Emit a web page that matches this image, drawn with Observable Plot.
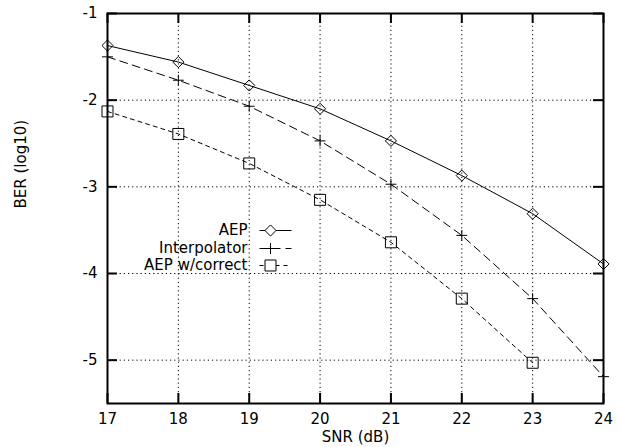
<!DOCTYPE html>
<html>
<head>
<meta charset="utf-8">
<script src="https://cdn.jsdelivr.net/npm/d3@7"></script>
<script src="https://cdn.jsdelivr.net/npm/@observablehq/plot@0.6"></script>
<style>
  html, body { margin: 0; padding: 0; background: #fff; }
  #chart svg { display: block; }
</style>
</head>
<body>
<div id="chart"></div>
<script>
const snr = [17, 18, 19, 20, 21, 22, 23, 24];
const aep = [-1.37, -1.56, -1.83, -2.10, -2.47, -2.87, -3.31, -3.89];
const interpolator = [-1.50, -1.77, -2.07, -2.47, -2.97, -3.56, -4.29, -5.19];
const aepCorrect = [-2.13, -2.39, -2.73, -3.15, -3.64, -4.29, -5.03];
const xTicks = [17, 18, 19, 20, 21, 22, 23, 24];
const yTicks = [-1, -2, -3, -4, -5];
const seriesNames = ["AEP", "Interpolator", "AEP w/correct"];

const W = 619, H = 447;
const mL = 107, mR = 16, mT = 13, mB = 44;
const pw = W - mL - mR, ph = H - mT - mB;
const font = "'DejaVu Sans', 'Liberation Sans', Arial, sans-serif";
const fs = 15;

const series = [
  {name: seriesNames[0], ys: aep, symbol: "diamond2", r: 5, dash: null},
  {name: seriesNames[1], ys: interpolator, symbol: "plus", r: 3.6, dash: "8,5"},
  {name: seriesNames[2], ys: aepCorrect, symbol: "square2", r: 7, dash: "4,4"}
];
const data = series.map(s => s.ys.map((v, i) => ({x: snr[i], y: v, name: s.name})));

const xDomain = [17, 24], yDomain = [-5.5, -1];
const px2x = p => xDomain[0] + (p - mL) / pw * (xDomain[1] - xDomain[0]);
const px2y = p => yDomain[1] - (p - mT) / ph * (yDomain[1] - yDomain[0]);

// legend layout (in pixels, converted to data units)
const legRows = [230, 248, 265];
const legTextX = 247, legLine = [259, 291], legMark = 270;

const marks = [
  Plot.gridX(xTicks, {stroke: "#000", strokeOpacity: 1, strokeWidth: 1, strokeDasharray: "1.2,3"}),
  Plot.gridY(yTicks, {stroke: "#000", strokeOpacity: 1, strokeWidth: 1, strokeDasharray: "1.2,3"}),
  // inward ticks
  Plot.tickX(xTicks, {x: d => d, insetTop: ph - 10, stroke: "#000", strokeWidth: 2}),
  Plot.tickX(xTicks, {x: d => d, insetBottom: ph - 10, stroke: "#000", strokeWidth: 2}),
  Plot.tickY(yTicks, {y: d => d, insetRight: pw - 10, stroke: "#000", strokeWidth: 2}),
  Plot.tickY(yTicks, {y: d => d, insetLeft: pw - 10, stroke: "#000", strokeWidth: 2}),
  Plot.axisX(xTicks, {tickSize: 0, tickPadding: 10, fontSize: fs, label: null, fill: "#000"}),
  Plot.axisY(yTicks, {tickSize: 0, tickPadding: 10, fontSize: fs, label: null, fill: "#000", tickFormat: d => String(d)}),
];

series.forEach((s, k) => {
  marks.push(Plot.line(data[k], {x: "x", y: "y", stroke: "#000", strokeWidth: 1, strokeDasharray: s.dash}));
  marks.push(Plot.dot(data[k], {x: "x", y: "y", symbol: () => s.symbol, r: s.r, stroke: "#000", fill: "none", strokeWidth: 1}));
  // legend
  const ly = px2y(legRows[k]);
  marks.push(Plot.text([s.name], {x: () => px2x(legTextX), y: () => ly, text: d => d, textAnchor: "end", fontSize: fs, fill: "#000"}));
  marks.push(Plot.link([0], {x1: () => px2x(legLine[0]), x2: () => px2x(legLine[1]), y1: () => ly, y2: () => ly, stroke: "#000", strokeWidth: 1, strokeDasharray: s.dash}));
  marks.push(Plot.dot([0], {x: () => px2x(legMark), y: () => ly, symbol: () => s.symbol, r: s.r, stroke: "#000", fill: "#fff", strokeWidth: 1}));
});

marks.push(Plot.frame({stroke: "#000", strokeWidth: 2}));
marks.push(Plot.text(["SNR (dB)"], {frameAnchor: "bottom", dy: 38, text: d => d, fontSize: fs, fill: "#000"}));
marks.push(Plot.text(["BER (log10)"], {frameAnchor: "left", dx: -86, rotate: -90, text: d => d, fontSize: fs, fill: "#000"}));

const chart = Plot.plot({
  width: W, height: H,
  marginLeft: mL, marginRight: mR, marginTop: mT, marginBottom: mB,
  style: {fontFamily: font, background: "#fff", color: "#000", overflow: "visible"},
  x: {domain: xDomain},
  y: {domain: yDomain},
  symbol: {type: "identity"},
  marks
});
document.getElementById("chart").appendChild(chart);
</script>
</body>
</html>
